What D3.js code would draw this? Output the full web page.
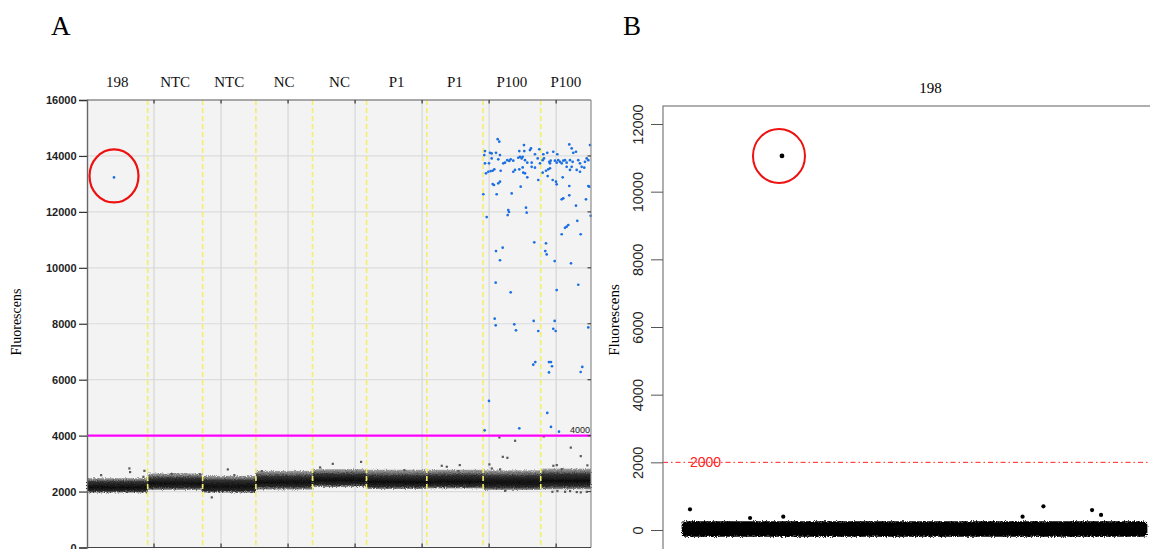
<!DOCTYPE html>
<html>
<head>
<meta charset="utf-8">
<script src="https://cdn.jsdelivr.net/npm/d3@7"></script>
<style>
  body { margin: 0; background: #fff; }
  svg { display: block; }
</style>
</head>
<body>
<svg id="chart" width="1150" height="549"></svg>
<script>
// ---------- Panel A: droplet amplitudes, nine wells ----------
const wellLabels = ["198", "NTC", "NTC", "NC", "NC", "P1", "P1", "P100", "P100"];
// cumulative event index where each well starts / ends
const wellEdges = [0, 18100, 34500, 50400, 67300, 83400, 101400, 118200, 135400, 150400];
// negative-droplet cloud per well (amplitude)
const bandHi     = [2480, 2650, 2560, 2740, 2800, 2780, 2780, 2760, 2820];
const bandCoreHi = [2350, 2480, 2400, 2540, 2620, 2560, 2580, 2560, 2620];
const bandCoreLo = [2020, 2150, 2030, 2180, 2250, 2180, 2200, 2160, 2200];
const bandLo     = [1960, 2060, 1960, 2070, 2160, 2090, 2110, 2060, 2080];
const ampTicksA = [0, 2000, 4000, 6000, 8000, 10000, 12000, 14000, 16000];
const eventTicksA = [20000, 40000, 60000, 80000, 100000, 120000, 140000];
const thresholdA = 4000;

// positive droplets [event, amplitude]
const positivesA = [
  [8060, 13230],
  [122550, 14600], [123030, 14510], [118760, 14175], [118550, 14030], [120260, 14110],
  [120760, 14090], [122050, 14110], [123240, 14030], [129000, 14175], [130490, 14175],
  [130400, 14390], [132190, 14210], [132490, 14270], [133680, 14060], [134970, 14240],
  [136160, 14060], [137350, 14110], [139140, 14150], [140340, 14060], [143920, 14410],
  [144630, 14270], [145110, 14110], [145920, 14150], [150100, 14390],
  [118760, 13735], [119960, 13735], [120760, 13910], [122730, 13880], [124220, 13735],
  [124730, 13760], [125420, 13850], [126010, 13820], [126430, 13880], [127210, 13830],
  [128700, 13935], [129210, 13970], [129710, 13910], [130010, 13970], [130700, 13850],
  [131390, 13760], [132700, 13760], [134490, 13910], [135180, 13735], [135980, 13850],
  [136370, 13910], [137950, 13790], [138160, 13735], [138370, 13830], [139650, 13830],
  [140160, 13760], [140640, 13850], [141140, 13790], [141650, 13735], [142130, 13830],
  [142640, 13850], [143140, 13760], [144130, 13850], [144930, 13790], [146600, 13850],
  [147110, 13735], [148600, 13790], [149110, 13910], [149590, 13850],
  [119060, 13380], [119750, 13435], [120460, 13460], [121060, 13470], [121540, 13520],
  [123450, 13470], [127210, 13435], [127720, 13500], [129000, 13520], [130010, 13590],
  [130190, 13400], [130700, 13380], [131390, 13235], [132700, 13610], [133680, 13580],
  [135980, 13400], [136970, 13470], [137650, 13520], [138160, 13560], [137470, 13280],
  [138970, 13140], [139950, 13080], [140160, 12985], [141950, 13235], [143140, 13610],
  [144130, 13500], [144630, 13610], [146130, 13500], [147110, 13435], [147620, 13610],
  [148390, 13580], [134670, 13140], [121060, 12995], [121450, 12960], [122730, 13020],
  [123240, 13080], [129420, 12900], [143920, 12925], [149590, 12925], [149890, 12900],
  [118260, 12630], [122250, 12630], [126730, 12660], [141650, 12450], [142130, 12485],
  [143920, 12590], [148900, 12450], [131000, 12150], [131210, 11970], [125720, 12065],
  [125930, 11995], [125540, 11885], [145920, 12220], [119270, 11815], [150300, 11860],
  [143620, 11530], [143140, 11470], [142640, 11430], [146310, 11680], [141650, 11200],
  [147320, 11200], [133470, 10910], [136970, 10875], [124050, 10720], [122050, 10600],
  [136760, 10600], [137180, 10480], [123240, 10270], [139560, 10240], [144430, 10160],
  [121960, 9470], [126430, 9125], [140160, 9205], [146600, 9395],
  [121660, 8180], [121960, 7945], [127510, 7980], [128010, 7765], [133300, 8100],
  [134670, 7740], [139560, 8100], [139140, 7820], [139860, 7740], [149590, 7870],
  [133180, 6535], [133770, 6630], [137860, 6630], [138460, 6630], [138760, 6480],
  [137860, 6260], [147800, 6455], [147320, 6275],
  [119960, 5240], [137350, 4810], [138460, 4310], [129000, 4260], [118670, 4190],
  [140850, 4140]
];

// scattered negative droplets outside the dense cloud [event, amplitude]
const outliersA = [
  [4180, 2590], [12620, 2830], [12830, 2700], [17100, 2745], [16800, 2530],
  [25270, 2630], [33720, 2620], [37210, 1795], [41990, 2795], [43950, 2590],
  [52130, 2735], [69530, 2865], [73320, 2995], [81760, 3065], [94680, 2770],
  [105840, 2925], [107330, 2890], [111210, 2950], [110800, 2735], [120050, 2975],
  [120760, 2830], [124050, 3245], [125420, 3210], [123240, 2795], [123030, 3940],
  [127720, 3820], [136280, 3975], [139140, 2925], [140160, 2950], [141650, 2805],
  [144340, 3575], [147320, 3270], [149290, 2940],
  [138850, 1995], [140340, 2020], [142640, 1995], [144130, 2020], [146130, 1985],
  [147320, 1975], [149110, 1995], [124730, 2030]
];

// ---------- Panel B: sample 198, baseline-subtracted ----------
const eventsB = 18100;
const bandB = [-200, 260];
const ampTicksB = [0, 2000, 4000, 6000, 8000, 10000, 12000];
const thresholdB = 2000;
const positivesB = [[3900, 11055]];
const outliersB = [
  [325, 610], [2660, 355], [3950, 395], [13250, 395], [14060, 700], [15950, 590], [16300, 445]
];

// ---------- drawing ----------
const svg = d3.select("#chart");
const defs = svg.append("defs");

defs.append("filter").attr("id", "rough")
  .attr("x", "-5%").attr("y", "-60%").attr("width", "110%").attr("height", "220%")
  .call(f => {
    f.append("feTurbulence").attr("type", "fractalNoise").attr("baseFrequency", 0.9)
      .attr("numOctaves", 2).attr("seed", 4).attr("result", "noise");
    f.append("feDisplacementMap").attr("in", "SourceGraphic").attr("in2", "noise")
      .attr("scale", 4).attr("xChannelSelector", "R").attr("yChannelSelector", "G");
  });

const serif = "'Liberation Serif', 'Times New Roman', serif";
const sans = "'Liberation Sans', Arial, sans-serif";

// ===== Panel A =====
const A = { left: 87, right: 591, top: 100, bottom: 547.5 };
const xA = d3.scaleLinear().domain([0, wellEdges[wellEdges.length - 1]]).range([A.left, A.right]);
const yA = d3.scaleLinear().domain([0, 16000]).range([A.bottom, A.top]);

const gA = svg.append("g");

gA.append("rect")
  .attr("x", A.left).attr("y", A.top)
  .attr("width", A.right - A.left).attr("height", A.bottom - A.top)
  .attr("fill", "#f3f3f3");

// grid
gA.append("g").selectAll("line").data(ampTicksA.filter(d => d > 0 && d < 16000)).join("line")
  .attr("x1", A.left).attr("x2", A.right)
  .attr("y1", d => yA(d)).attr("y2", d => yA(d))
  .attr("stroke", "#dcdcdc").attr("stroke-width", 1.2);
gA.append("g").selectAll("line").data(eventTicksA).join("line")
  .attr("x1", d => xA(d)).attr("x2", d => xA(d))
  .attr("y1", A.top).attr("y2", A.bottom)
  .attr("stroke", "#d6d6d6").attr("stroke-width", 1.2);

// negative droplet clouds
const wells = wellLabels.map((label, i) => ({
  label, i,
  start: wellEdges[i], end: wellEdges[i + 1],
  hi: bandHi[i], coreHi: bandCoreHi[i], coreLo: bandCoreLo[i], lo: bandLo[i]
}));

wells.forEach(w => {
  const span = w.hi - w.lo;
  const g = defs.append("linearGradient").attr("id", "band" + w.i)
    .attr("x1", 0).attr("x2", 0).attr("y1", 0).attr("y2", 1);
  const stops = [
    [0, "#a4a4a4"],
    [(w.hi - w.coreHi) / span * 0.6, "#6a6a6a"],
    [(w.hi - w.coreHi) / span, "#333"],
    [((w.hi - w.coreHi) + (w.coreHi - w.coreLo) * 0.6) / span, "#0c0c0c"],
    [(w.hi - w.coreLo) / span, "#2a2a2a"],
    [1, "#959595"]
  ];
  stops.forEach(s => g.append("stop").attr("offset", s[0]).attr("stop-color", s[1]));
});

gA.append("g").attr("filter", "url(#rough)")
  .selectAll("rect").data(wells).join("rect")
  .attr("x", d => xA(d.start)).attr("width", d => xA(d.end) - xA(d.start))
  .attr("y", d => yA(d.hi)).attr("height", d => yA(d.lo) - yA(d.hi))
  .attr("fill", d => `url(#band${d.i})`);

gA.append("g").selectAll("rect").data(outliersA).join("rect")
  .attr("x", d => xA(d[0]) - 1).attr("y", d => yA(d[1]) - 1)
  .attr("width", 2.2).attr("height", 2.2)
  .attr("fill", "#5a5a5a");

// well separators
gA.append("g").selectAll("line").data(wellEdges.slice(1, -1)).join("line")
  .attr("x1", d => xA(d)).attr("x2", d => xA(d))
  .attr("y1", A.top).attr("y2", A.bottom)
  .attr("stroke", "#f4ee6a").attr("stroke-width", 1.6)
  .attr("stroke-dasharray", "5,3");

// threshold
gA.append("line")
  .attr("x1", A.left).attr("x2", A.right)
  .attr("y1", yA(thresholdA)).attr("y2", yA(thresholdA))
  .attr("stroke", "#ff00ff").attr("stroke-width", 2.2);
gA.append("text")
  .attr("x", A.right - 1).attr("y", yA(thresholdA) - 2.5)
  .attr("text-anchor", "end")
  .attr("font-family", sans).attr("font-size", 9)
  .attr("fill", "#222")
  .text(thresholdA);

// positive droplets
gA.append("g").selectAll("circle").data(positivesA).join("circle")
  .attr("cx", d => xA(d[0])).attr("cy", d => yA(d[1]))
  .attr("r", 1.35)
  .attr("fill", "#1c6fe0");

// highlighted droplet in sample 198
gA.append("ellipse")
  .attr("cx", xA(positivesA[0][0])).attr("cy", yA(positivesA[0][1]) - 1.5)
  .attr("rx", 24.5).attr("ry", 26.5)
  .attr("fill", "none").attr("stroke", "#ee1111").attr("stroke-width", 2.2);

// frame
gA.append("line").attr("x1", A.left).attr("x2", A.right).attr("y1", A.top).attr("y2", A.top)
  .attr("stroke", "#8c8c8c").attr("stroke-width", 1.5);
gA.append("line").attr("x1", A.right).attr("x2", A.right).attr("y1", A.top).attr("y2", A.bottom)
  .attr("stroke", "#8c8c8c").attr("stroke-width", 1.2);
gA.append("line").attr("x1", A.left).attr("x2", A.right).attr("y1", A.bottom).attr("y2", A.bottom)
  .attr("stroke", "#444").attr("stroke-width", 1.2);

// small ticks on top, bottom, right
gA.append("g").selectAll("line").data(eventTicksA).join("line")
  .attr("x1", d => xA(d)).attr("x2", d => xA(d))
  .attr("y1", A.top).attr("y2", A.top + 3.5)
  .attr("stroke", "#333").attr("stroke-width", 1.2);
gA.append("g").selectAll("line").data(eventTicksA).join("line")
  .attr("x1", d => xA(d)).attr("x2", d => xA(d))
  .attr("y1", A.bottom).attr("y2", A.bottom - 4)
  .attr("stroke", "#333").attr("stroke-width", 1.2);
gA.append("g").selectAll("line").data(ampTicksA.filter(d => d > 0 && d < 16000)).join("line")
  .attr("x1", A.right).attr("x2", A.right - 3.5)
  .attr("y1", d => yA(d)).attr("y2", d => yA(d))
  .attr("stroke", "#444").attr("stroke-width", 1.2);

// y axis
const axA = gA.append("g").attr("transform", `translate(${A.left},0)`)
  .call(d3.axisLeft(yA).tickValues(ampTicksA).tickSize(8).tickPadding(2.5).tickFormat(d3.format("d")));
axA.select(".domain").attr("stroke", "#666").attr("stroke-width", 1.4);
axA.selectAll(".tick line").attr("stroke", "#333").attr("stroke-width", 1.2);
axA.selectAll(".tick text")
  .attr("font-family", sans).attr("font-size", 11).attr("font-weight", "bold")
  .attr("fill", "#1e1e1e");

// well labels
gA.append("g").selectAll("text").data(wells).join("text")
  .attr("x", d => xA((d.start + d.end) / 2)).attr("y", 87)
  .attr("text-anchor", "middle")
  .attr("font-family", serif).attr("font-size", 15)
  .attr("fill", "#111")
  .text(d => d.label);

gA.append("text")
  .attr("transform", `translate(21,322) rotate(-90)`)
  .attr("text-anchor", "middle")
  .attr("font-family", serif).attr("font-size", 14)
  .text("Fluorescens");

svg.append("text").attr("x", 51).attr("y", 35)
  .attr("font-family", serif).attr("font-size", 27).text("A");

// ===== Panel B =====
const B = { left: 663, right: 1166, top: 106, bottom: 570 };
const padB = eventsB * 0.04;
const xB = d3.scaleLinear().domain([-padB, eventsB + padB]).range([B.left, B.right]);
const yB = d3.scaleLinear().domain([0, 12000]).range([530, 124]);

const gB = svg.append("g");

// threshold
gB.append("line")
  .attr("x1", B.left).attr("x2", B.right)
  .attr("y1", yB(thresholdB)).attr("y2", yB(thresholdB))
  .attr("stroke", "#ff2020").attr("stroke-width", 1)
  .attr("stroke-dasharray", "5,3,1.5,3");
gB.append("text")
  .attr("x", 690).attr("y", yB(thresholdB) + 5)
  .attr("font-family", sans).attr("font-size", 14)
  .attr("fill", "#ff2020")
  .text(thresholdB);

// dense droplet cloud around zero
gB.append("rect").attr("filter", "url(#rough)")
  .attr("x", xB(0)).attr("width", xB(eventsB) - xB(0))
  .attr("y", yB(bandB[1])).attr("height", yB(bandB[0]) - yB(bandB[1]))
  .attr("rx", 4).attr("fill", "#000");

gB.append("g").selectAll("circle").data(outliersB).join("circle")
  .attr("cx", d => xB(d[0])).attr("cy", d => yB(d[1]))
  .attr("r", 2.1).attr("fill", "#000");

gB.append("g").selectAll("circle").data(positivesB).join("circle")
  .attr("cx", d => xB(d[0])).attr("cy", d => yB(d[1]))
  .attr("r", 2.4).attr("fill", "#000");

gB.append("ellipse")
  .attr("cx", xB(positivesB[0][0]) - 3).attr("cy", yB(positivesB[0][1]))
  .attr("rx", 26).attr("ry", 27)
  .attr("fill", "none").attr("stroke", "#ee1111").attr("stroke-width", 2);

// frame
gB.append("rect")
  .attr("x", B.left).attr("y", B.top)
  .attr("width", B.right - B.left).attr("height", B.bottom - B.top)
  .attr("fill", "none").attr("stroke", "#7a7a7a").attr("stroke-width", 1.2);

// y axis with vertical labels
const axB = gB.append("g").attr("transform", `translate(${B.left},0)`)
  .call(d3.axisLeft(yB).tickValues(ampTicksB).tickSize(12).tickFormat(d3.format("d")));
axB.select(".domain").remove();
axB.selectAll(".tick line").attr("stroke", "#555").attr("stroke-width", 1);
axB.selectAll(".tick text")
  .attr("transform", "rotate(-90)")
  .attr("x", 0).attr("y", -20).attr("dy", 0)
  .attr("text-anchor", "middle")
  .attr("font-family", sans).attr("font-size", 14.5)
  .attr("fill", "#262626");

gB.append("text")
  .attr("x", (B.left + 1198) / 2).attr("y", 93)
  .attr("text-anchor", "middle")
  .attr("font-family", serif).attr("font-size", 15)
  .text("198");

gB.append("text")
  .attr("transform", `translate(619,320) rotate(-90)`)
  .attr("text-anchor", "middle")
  .attr("font-family", serif).attr("font-size", 15)
  .text("Fluorescens");

svg.append("text").attr("x", 623).attr("y", 35)
  .attr("font-family", serif).attr("font-size", 27).text("B");
</script>
</body>
</html>
